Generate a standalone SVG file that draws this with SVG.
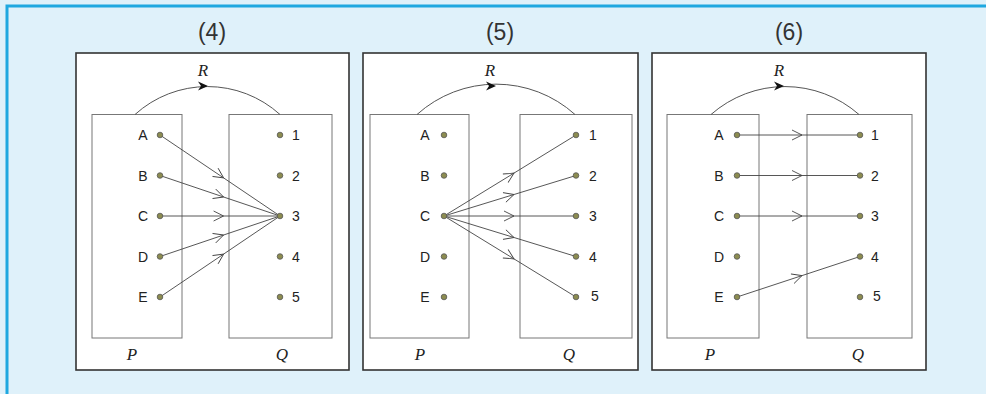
<svg xmlns="http://www.w3.org/2000/svg" width="986" height="394" viewBox="0 0 986 394">
<defs>
<style>
.bg{fill:#dff1fa}
.edge{stroke:#1fa8e0;stroke-width:3;fill:none}
.outer{fill:#fff;stroke:#333;stroke-width:1.6}
.inner{fill:#fff;stroke:#777;stroke-width:1}
.arc{fill:none;stroke:#555;stroke-width:1}
.head{fill:#111}
.dot{fill:#8c8c50;stroke:#555;stroke-width:0.8}
.lbl{font-family:"Liberation Sans",Arial,sans-serif;font-size:14px;fill:#222;text-anchor:middle}
.title{font-family:"Liberation Sans",Arial,sans-serif;font-size:23px;fill:#333;text-anchor:middle}
.it{font-family:"Liberation Serif","Times New Roman",serif;font-style:italic;font-size:17px;fill:#222;text-anchor:middle}
.ln{fill:none;stroke:#444;stroke-width:0.9;marker-mid:url(#chev)}
</style>
<marker id="chev" viewBox="-11 -6 12 12" refX="0" refY="0" markerWidth="12" markerHeight="12" markerUnits="userSpaceOnUse" orient="auto">
<path d="M-10,-5 L0,0 L-10,5" fill="none" stroke="#444" stroke-width="0.9"/>
</marker>
</defs>
<rect class="bg" x="0" y="0" width="986" height="394"/>
<path class="edge" d="M7,394 V6 H986"/>

<g id="panel4">
<text class="title" x="212" y="40">(4)</text>
<rect class="outer" x="76" y="53" width="273" height="317"/>
<rect class="inner" x="92" y="114.5" width="90" height="223.5"/>
<rect class="inner" x="229" y="114.5" width="103" height="223.5"/>
<path class="arc" d="M135,114.5 A108,108 0 0 1 280,114.5"/>
<path class="head" d="M208,86 L198,81.5 L201,86 L198,90.5 Z"/>
<text class="it" x="203" y="76">R</text>
<text class="it" x="132" y="360">P</text>
<text class="it" x="282" y="360">Q</text>
</g>
<g id="panel5">
<text class="title" x="500" y="40">(5)</text>
<rect class="outer" x="363" y="53" width="275" height="317"/>
<rect class="inner" x="370" y="114.5" width="99" height="223.5"/>
<rect class="inner" x="520" y="114.5" width="112" height="223.5"/>
<path class="arc" d="M417,114.5 A118,118 0 0 1 575,114.5"/>
<path class="head" d="M496,86 L486,81.5 L489,86 L486,90.5 Z"/>
<text class="it" x="490" y="76">R</text>
<text class="it" x="420" y="360">P</text>
<text class="it" x="569" y="360">Q</text>
</g>
<g id="panel6">
<text class="title" x="789" y="40">(6)</text>
<rect class="outer" x="652" y="53" width="274" height="317"/>
<rect class="inner" x="667" y="114.5" width="92" height="223.5"/>
<rect class="inner" x="807" y="114.5" width="105" height="223.5"/>
<path class="arc" d="M711,114.5 A112,112 0 0 1 859,114.5"/>
<path class="head" d="M784,86 L774,81.5 L777,86 L774,90.5 Z"/>
<text class="it" x="779" y="76">R</text>
<text class="it" x="710" y="360">P</text>
<text class="it" x="858" y="360">Q</text>
</g>

<g id="connectors">
<polyline class="ln" points="160,135 223.6,177.9 280,216"/>
<polyline class="ln" points="160,175.5 223.6,197 280,216"/>
<polyline class="ln" points="160,216 223.6,216 280,216"/>
<polyline class="ln" points="160,256.5 223.6,235 280,216"/>
<polyline class="ln" points="160,297 223.6,254.1 280,216"/>

<polyline class="ln" points="444,216 514,173.1 576,135"/>
<polyline class="ln" points="444,216 514,194.5 576,175.5"/>
<polyline class="ln" points="444,216 514,216 576,216"/>
<polyline class="ln" points="444,216 514,237.5 576,256.5"/>
<polyline class="ln" points="444,216 514,258.9 576,297"/>

<polyline class="ln" points="737,135 802,135 860,135"/>
<polyline class="ln" points="737,175.5 802,175.5 860,175.5"/>
<polyline class="ln" points="737,216 802,216 860,216"/>
<polyline class="ln" points="737,297 802,275.6 860,256.5"/>
</g>

<g id="set-P4">
<text class="lbl" x="143" y="140">A</text><circle class="dot" cx="160" cy="135" r="2.8"/>
<text class="lbl" x="143" y="180.5">B</text><circle class="dot" cx="160" cy="175.5" r="2.8"/>
<text class="lbl" x="143" y="221">C</text><circle class="dot" cx="160" cy="216" r="2.8"/>
<text class="lbl" x="143" y="261.5">D</text><circle class="dot" cx="160" cy="256.5" r="2.8"/>
<text class="lbl" x="143" y="302">E</text><circle class="dot" cx="160" cy="297" r="2.8"/>
</g>
<g id="set-Q4">
<circle class="dot" cx="280" cy="135" r="2.8"/><text class="lbl" x="296" y="140">1</text>
<circle class="dot" cx="280" cy="175.5" r="2.8"/><text class="lbl" x="296" y="180.5">2</text>
<circle class="dot" cx="280" cy="216" r="2.8"/><text class="lbl" x="296" y="221">3</text>
<circle class="dot" cx="280" cy="256.5" r="2.8"/><text class="lbl" x="296" y="261.5">4</text>
<circle class="dot" cx="280" cy="297" r="2.8"/><text class="lbl" x="296" y="302">5</text>
</g>
<g id="set-P5">
<text class="lbl" x="425" y="140">A</text><circle class="dot" cx="444" cy="135" r="2.8"/>
<text class="lbl" x="425" y="180.5">B</text><circle class="dot" cx="444" cy="175.5" r="2.8"/>
<text class="lbl" x="425" y="221">C</text><circle class="dot" cx="444" cy="216" r="2.8"/>
<text class="lbl" x="425" y="261.5">D</text><circle class="dot" cx="444" cy="256.5" r="2.8"/>
<text class="lbl" x="425" y="302">E</text><circle class="dot" cx="444" cy="297" r="2.8"/>
</g>
<g id="set-Q5">
<circle class="dot" cx="576" cy="135" r="2.8"/><text class="lbl" x="593" y="140">1</text>
<circle class="dot" cx="576" cy="175.5" r="2.8"/><text class="lbl" x="593" y="180.5">2</text>
<circle class="dot" cx="576" cy="216" r="2.8"/><text class="lbl" x="593" y="221">3</text>
<circle class="dot" cx="576" cy="256.5" r="2.8"/><text class="lbl" x="593" y="261.5">4</text>
<circle class="dot" cx="576" cy="297" r="2.8"/><text class="lbl" x="595" y="301">5</text>
</g>
<g id="set-P6">
<text class="lbl" x="719" y="140">A</text><circle class="dot" cx="737" cy="135" r="2.8"/>
<text class="lbl" x="719" y="180.5">B</text><circle class="dot" cx="737" cy="175.5" r="2.8"/>
<text class="lbl" x="719" y="221">C</text><circle class="dot" cx="737" cy="216" r="2.8"/>
<text class="lbl" x="719" y="261.5">D</text><circle class="dot" cx="737" cy="256.5" r="2.8"/>
<text class="lbl" x="719" y="302">E</text><circle class="dot" cx="737" cy="297" r="2.8"/>
</g>
<g id="set-Q6">
<circle class="dot" cx="860" cy="135" r="2.8"/><text class="lbl" x="875" y="140">1</text>
<circle class="dot" cx="860" cy="175.5" r="2.8"/><text class="lbl" x="875" y="180.5">2</text>
<circle class="dot" cx="860" cy="216" r="2.8"/><text class="lbl" x="875" y="221">3</text>
<circle class="dot" cx="860" cy="256.5" r="2.8"/><text class="lbl" x="875" y="261.5">4</text>
<circle class="dot" cx="860" cy="297" r="2.8"/><text class="lbl" x="877" y="301">5</text>
</g>
</svg>
